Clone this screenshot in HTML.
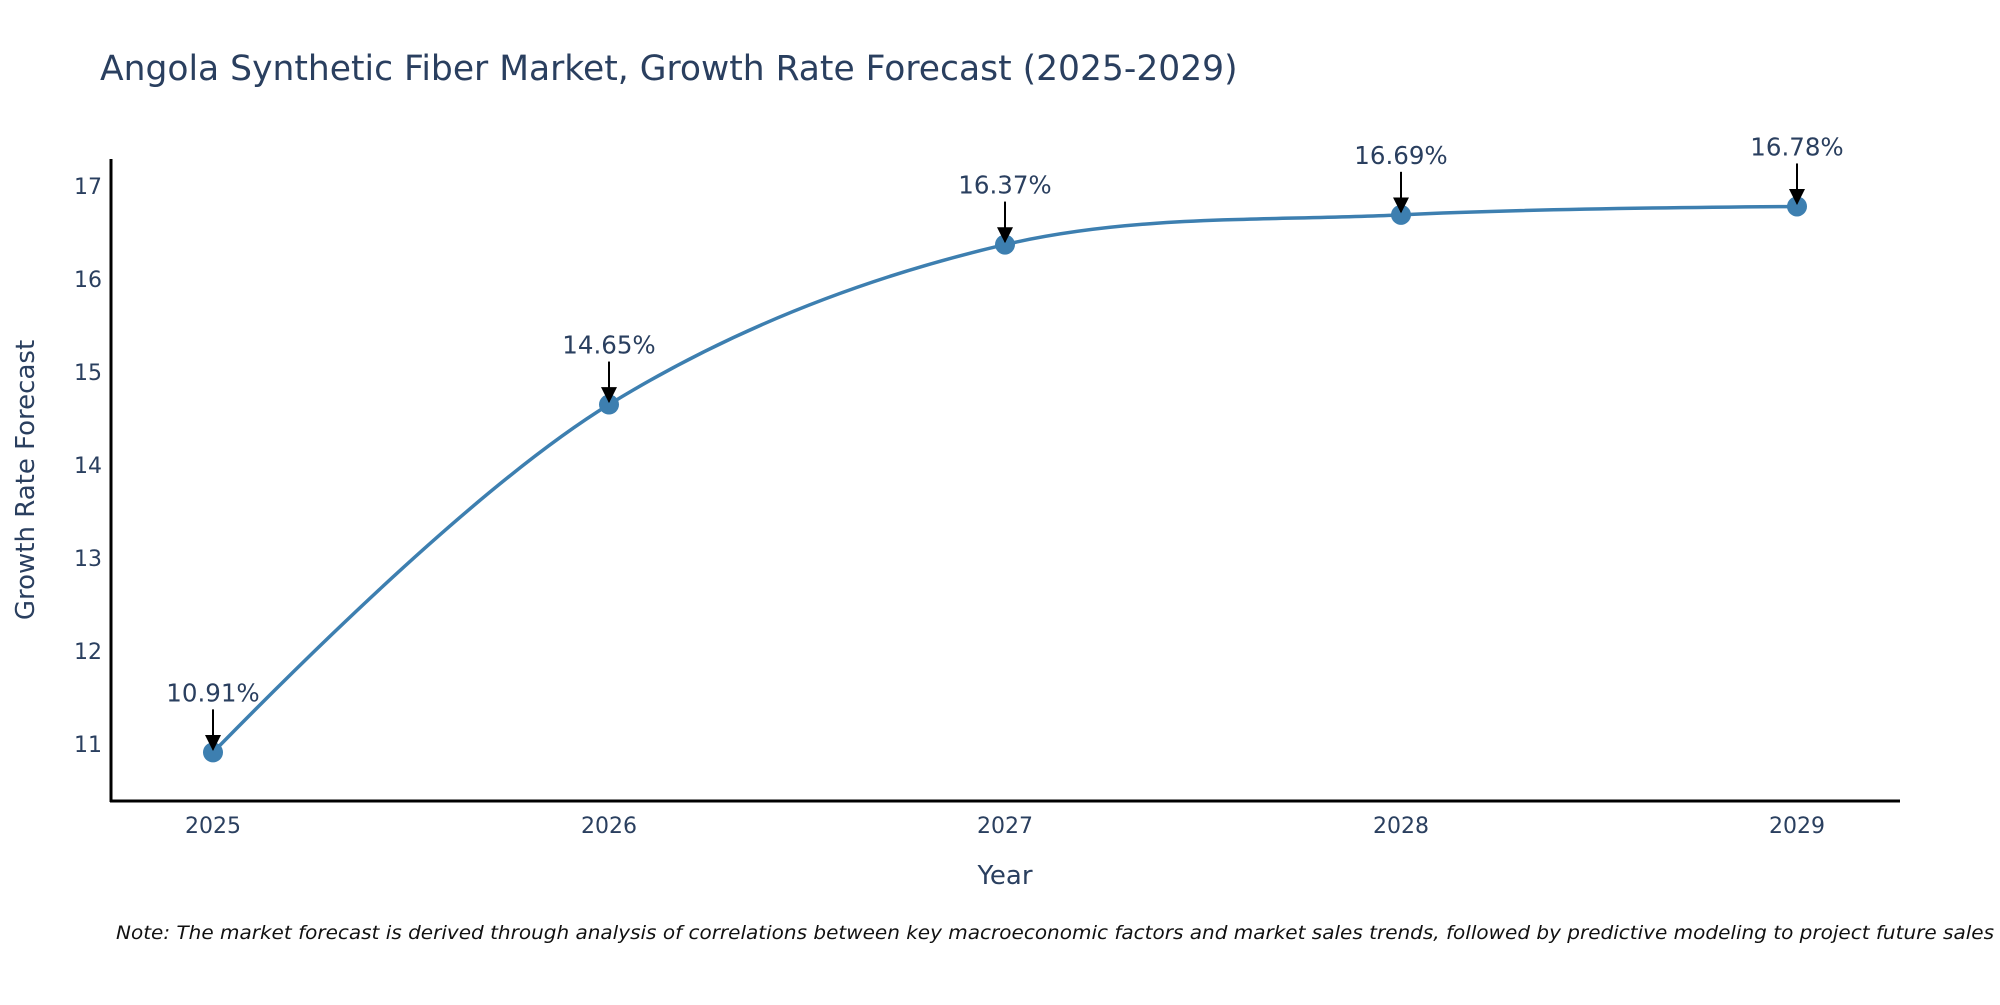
<!DOCTYPE html>
<html><head><meta charset="utf-8"><style>
body{margin:0;background:#fff;}
svg text{font-family:"DejaVu Sans","Liberation Sans",sans-serif;fill:#2a3f5f;}
</style></head><body>
<svg id="chart" width="2000" height="1000" viewBox="0 0 2000 1000">
<defs><marker id="ah" viewBox="0 0 10 10" refX="9" refY="5" markerWidth="7" markerHeight="7" markerUnits="userSpaceOnUse" orient="auto"><path d="M0,0 L10,5 L0,10 z" fill="#000"/></marker>
<marker id="ah2" viewBox="0 0 10 10" refX="9" refY="5" markerWidth="16" markerHeight="16" markerUnits="userSpaceOnUse" orient="auto"><path d="M0,0 L10,5 L0,10 z" fill="#000"/></marker></defs>
<text x="100" y="80" font-size="34.5">Angola Synthetic Fiber Market, Growth Rate Forecast (2025-2029)</text>
<g id="yticks"></g><g id="xticks"></g>
<line x1="111" y1="159" x2="111" y2="802" stroke="#000" stroke-width="3"/>
<line x1="110" y1="801" x2="1900" y2="801" stroke="#000" stroke-width="3"/>
<path id="line" fill="none" stroke="#3d7fb0" stroke-width="3.5"/>
<g id="marks"></g>
<text transform="translate(34,480) rotate(-90)" text-anchor="middle" font-size="26">Growth Rate Forecast</text>
<text x="1005" y="884" text-anchor="middle" font-size="26">Year</text>
<text x="116" y="939" font-size="19" font-style="italic" style="fill:#111" textLength="1878" lengthAdjust="spacingAndGlyphs">Note: The market forecast is derived through analysis of correlations between key macroeconomic factors and market sales trends, followed by predictive modeling to project future sales</text>
</svg>
<script>
const years=[2025,2026,2027,2028,2029];
const values=[10.91,14.65,16.37,16.69,16.78];
const yTicks=[11,12,13,14,15,16,17];
const ns="http://www.w3.org/2000/svg";
function xs(i){return 213+i*396;}
function ys(v){return 744-(v-11)*93;}
const yt=document.getElementById('yticks');
yTicks.forEach(t=>{const e=document.createElementNS(ns,'text');


e.setAttribute('x',102);e.setAttribute('y',ys(t)+8);e.setAttribute('text-anchor','end');e.setAttribute('font-size','22');e.textContent=t;yt.appendChild(e);});
const xt=document.getElementById('xticks');
years.forEach((y,i)=>{const e=document.createElementNS(ns,'text');


e.setAttribute('x',xs(i));e.setAttribute('y',833);e.setAttribute('text-anchor','middle');e.setAttribute('font-size','22');e.textContent=y;xt.appendChild(e);});
const P=values.map((v,i)=>[xs(i),ys(v)]);
const sm=1;const T=[];
for(let i=1;i<P.length-1;i++){const [x0,y0]=P[i-1],[x1,y1]=P[i],[x2,y2]=P[i+1];
const dxa=x1-x0,dya=y1-y0,dxb=x2-x1,dyb=y2-y1;
const d1=Math.pow(dxa*dxa+dya*dya,0.25),d2=Math.pow(dxb*dxb+dyb*dyb,0.25);
const nx=(d2*d2*dxa+d1*d1*dxb)*sm,ny=(d2*d2*dya+d1*d1*dyb)*sm;
const den1=3*d2*(d1+d2),den2=3*d1*(d1+d2);
T[i]=[[x1-nx/den1,y1-ny/den1],[x1+nx/den2,y1+ny/den2]];}
const n=P.length;
let d='M'+P[0][0]+','+P[0][1];
d+=` Q${T[1][0][0]},${T[1][0][1]} ${P[1][0]},${P[1][1]}`;
for(let i=1;i<n-2;i++){d+=` C${T[i][1][0]},${T[i][1][1]} ${T[i+1][0][0]},${T[i+1][0][1]} ${P[i+1][0]},${P[i+1][1]}`;}
d+=` Q${T[n-2][1][0]},${T[n-2][1][1]} ${P[n-1][0]},${P[n-1][1]}`;
document.getElementById('line').setAttribute('d',d);
const m=document.getElementById('marks');
P.forEach((p,i)=>{const c=document.createElementNS(ns,'circle');


c.setAttribute('cx',p[0]);c.setAttribute('cy',p[1]);c.setAttribute('r',10);c.setAttribute('fill','#3d7fb0');m.appendChild(c);
const a=document.createElementNS(ns,'line');


a.setAttribute('x1',p[0]);a.setAttribute('y1',p[1]-43);a.setAttribute('x2',p[0]);a.setAttribute('y2',p[1]-3);a.setAttribute('stroke','#000');a.setAttribute('stroke-width','2');a.setAttribute('marker-end','url(#ah2)');m.appendChild(a);
const t=document.createElementNS(ns,'text');


t.setAttribute('x',p[0]);t.setAttribute('y',p[1]-51);t.setAttribute('text-anchor','middle');t.setAttribute('font-size','24.5');t.textContent=values[i].toFixed(2)+'%';m.appendChild(t);});
</script>
</body></html>
